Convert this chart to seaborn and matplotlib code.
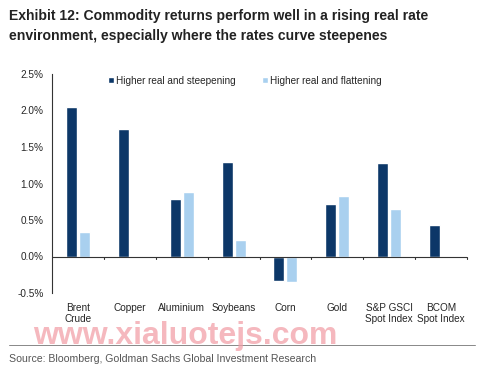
import matplotlib
matplotlib.use("Agg")
import matplotlib.pyplot as plt
import matplotlib.ticker as mticker
import seaborn as sns
import pandas as pd

categories = ["Brent\nCrude", "Copper", "Aluminium", "Soybeans", "Corn", "Gold", "S&P GSCI\nSpot Index", "BCOM\nSpot Index"]
steepening = [2.05, 1.74, 0.79, 1.30, -0.33, 0.72, 1.28, 0.43]
flattening = [0.33, 0.01, 0.88, 0.22, -0.35, 0.83, 0.65, 0.005]
series_names = ["Higher real and steepening", "Higher real and flattening"]
colors = ["#0c3768", "#a9d0ef"]

df = pd.DataFrame({
    "category": categories * 2,
    "value": steepening + flattening,
    "series": [series_names[0]] * len(categories) + [series_names[1]] * len(categories),
})

sns.set_style("white")
plt.rcParams["font.family"] = ["Liberation Sans", "DejaVu Sans"]

fig = plt.figure(figsize=(4.99, 3.77), dpi=100)
ax = fig.add_axes([52 / 499, 1 - 293 / 377, (467 - 52) / 499, (293 - 74) / 377])

sns.barplot(data=df, x="category", y="value", hue="series", palette=colors,
            width=0.5, gap=0.15, ax=ax, saturation=1)

ax.set_ylim(-0.5, 2.5)
ax.set_xlim(-0.5, len(categories) - 0.5)
ax.set_yticks([-0.5, 0, 0.5, 1.0, 1.5, 2.0, 2.5])
ax.yaxis.set_major_formatter(mticker.FuncFormatter(lambda v, p: f"{v:.1f}%"))
ax.set_xlabel("")
ax.set_ylabel("")

for s in ["top", "right", "bottom"]:
    ax.spines[s].set_visible(False)
ax.spines["left"].set_color("#333333")
ax.spines["left"].set_linewidth(0.8)
ax.axhline(0, color="#333333", lw=0.8, zorder=3)
ax.tick_params(axis="y", direction="out", length=4, width=0.8, color="#333333", labelsize=7.2, pad=2)
ax.tick_params(axis="x", length=0, labelsize=7.2, pad=7)
for lbl in ax.get_xticklabels():
    lbl.set_linespacing(1.15)

# separator ticks on the zero line between categories
for xb in range(1, len(categories) + 1):
    ax.plot([xb - 0.5, xb - 0.5], [0, -0.03], color="#333333", lw=0.8, clip_on=False, zorder=3)

ax.legend(loc="upper left", bbox_to_anchor=(0.125, 1.01), ncol=2, frameon=False,
          fontsize=7.2, handlelength=0.6, handleheight=0.6, handletextpad=0.2,
          columnspacing=2.6, borderaxespad=0)

fig.text(9 / 499, 1 - 16 / 377, "Exhibit 12: Commodity returns perform well in a rising real rate",
         fontsize=10.1, fontweight="bold", color="#222222", va="center")
fig.text(9 / 499, 1 - 36 / 377, "environment, especially where the rates curve steepenes",
         fontsize=10.1, fontweight="bold", color="#222222", va="center")

fig.text(33 / 499, 1 - 336 / 377, "www.xialuotejs.com", fontsize=23, fontweight="bold",
         color="#f2a0a8", alpha=0.75, va="center")

fig.add_artist(plt.Line2D([9 / 499, 475 / 499], [1 - 345 / 377, 1 - 345 / 377],
                          color="#888888", lw=0.7, transform=fig.transFigure))
fig.text(9 / 499, 1 - 359 / 377, "Source: Bloomberg, Goldman Sachs Global Investment Research",
         fontsize=7.6, color="#555555", va="center")

fig.savefig("out.png", dpi=100)
